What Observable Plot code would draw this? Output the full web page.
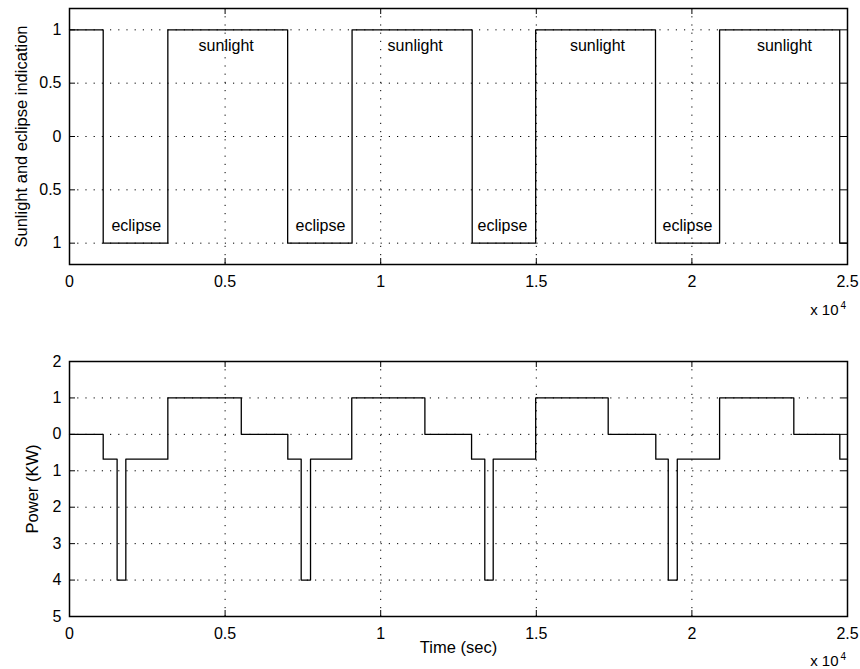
<!DOCTYPE html>
<html>
<head>
<meta charset="utf-8">
<script src="https://cdn.jsdelivr.net/npm/d3@7"></script>
<script src="https://cdn.jsdelivr.net/npm/@observablehq/plot@0.6"></script>
<style>
  body { margin: 0; background: #fff; }
  #chart { width: 860px; height: 669px; font-family: "Liberation Sans", Arial, Helvetica, sans-serif; }
  #chart svg { display: block; font-family: "Liberation Sans", Arial, Helvetica, sans-serif; }
</style>
</head>
<body>
<div id="chart"></div>
<script>
// ---------- data ----------
// Top panel: sunlight (+1) / eclipse (-1) indication, step changes at these times (s)
const sunTime  = [0, 1083, 3160, 7010, 9080, 12940, 14980, 18830, 20890, 24750, 25000];
const sunValue = [1,   -1,    1,   -1,    1,    -1,     1,    -1,     1,    -1,    -1];

// Bottom panel: power (KW), step changes at these times (s)
const powerTime  = [0, 1083, 1530, 1810, 3160, 5520, 7015, 7445, 7745, 9070, 11420, 12920, 13345, 13615, 14980, 17310, 18840, 19240, 19530, 20890, 23275, 24753, 25000];
const powerValue = [0, -0.68, -4, -0.68,   1,    0, -0.68,   -4, -0.68,   1,     0, -0.68,    -4, -0.68,     1,     0, -0.68,    -4, -0.68,     1,     0, -0.68, -0.68];

// Annotations
const sunLabelTime     = [5035, 11108, 16966, 22975];
const eclipseLabelTime = [2147, 8065, 13914, 19859];
const sunLabelLevel = 0.85;
const eclipseLabelLevel = -0.84;

// Tick values
const xTicks = [0, 5000, 10000, 15000, 20000, 25000];
const yTicksTop = [-1, -0.5, 0, 0.5, 1];
const yTicksBottom = [-5, -4, -3, -2, -1, 0, 1, 2];

// ---------- layout / style ----------
const W = 860, ML = 69, MR = 13;
const FONT = 16;
const dotted = "1.2,7";
const absFmt = d => String(Math.abs(d));
const xFmt = d => String(d / 1e4);

function innerTicks(xt, yt, frameW, frameH, xDomain, yDomain) {
  const xin = xt.filter(d => d > xDomain[0] && d < xDomain[1]);
  const yin = yt.filter(d => d > yDomain[0] && d < yDomain[1]);
  const L = 6;
  return [
    Plot.tickX(xin, {x: d => d, stroke: "black", strokeWidth: 1, insetTop: frameH - L}),
    Plot.tickX(xin, {x: d => d, stroke: "black", strokeWidth: 1, insetBottom: frameH - L}),
    Plot.tickY(yin, {y: d => d, stroke: "black", strokeWidth: 1, insetRight: frameW - L}),
    Plot.tickY(yin, {y: d => d, stroke: "black", strokeWidth: 1, insetLeft: frameW - L})
  ];
}

function grid(xt, yt, xDomain, yDomain) {
  const xin = xt.filter(d => d > xDomain[0] && d < xDomain[1]);
  const yin = yt.filter(d => d > yDomain[0] && d < yDomain[1]);
  return [
    Plot.ruleX(xin, {x: d => d, stroke: "black", strokeWidth: 1, strokeDasharray: dotted}),
    Plot.ruleY(yin, {y: d => d, stroke: "black", strokeWidth: 1, strokeDasharray: dotted})
  ];
}

function exponent(dyBase) {
  return [
    Plot.text(["x 10"], {frameAnchor: "bottom-right", textAnchor: "end", dx: -9, dy: dyBase, fontSize: 15, fill: "black"}),
    Plot.text(["4"], {frameAnchor: "bottom-right", textAnchor: "start", dx: -7, dy: dyBase - 6, fontSize: 10, fill: "black"})
  ];
}

// ---------- top panel ----------
const topH = 320, topMT = 8, topMB = 56;
const topX = [0, 25000], topY = [-1.2, 1.2];
const topData = sunTime.map((t, i) => ({t, v: sunValue[i]}));

const topPlot = Plot.plot({
  width: W, height: topH,
  marginLeft: ML, marginRight: MR, marginTop: topMT, marginBottom: topMB,
  style: {fontSize: FONT + "px", color: "black", background: "white"},
  x: {domain: topX},
  y: {domain: topY},
  marks: [
    ...grid(xTicks, yTicksTop, topX, topY),
    ...innerTicks(xTicks, yTicksTop, W - ML - MR, topH - topMT - topMB, topX, topY),
    Plot.line(topData, {x: "t", y: "v", curve: "step-after", stroke: "black", strokeWidth: 1.3}),
    Plot.text(sunLabelTime, {x: d => d, y: sunLabelLevel, text: () => "sunlight", fontSize: FONT, fill: "black"}),
    Plot.text(eclipseLabelTime, {x: d => d, y: eclipseLabelLevel, text: () => "eclipse", fontSize: FONT, fill: "black"}),
    Plot.frame({stroke: "black", strokeWidth: 1.5}),
    Plot.axisX(xTicks, {tickSize: 0, tickPadding: 11, tickFormat: xFmt, label: null, fontSize: FONT}),
    Plot.axisY(yTicksTop, {tickSize: 0, tickPadding: 8, tickFormat: absFmt, label: null, fontSize: FONT}),
    Plot.text(["Sunlight and eclipse indication"], {frameAnchor: "left", textAnchor: "middle", dx: -48, rotate: -90, fontSize: 16.5, fill: "black"}),
    ...exponent(50)
  ]
});

// ---------- bottom panel ----------
const botH = 349, botMT = 41, botMB = 53;
const botX = [0, 25000], botY = [-5, 2];
const botData = powerTime.map((t, i) => ({t, v: powerValue[i]}));

const bottomPlot = Plot.plot({
  width: W, height: botH,
  marginLeft: ML, marginRight: MR, marginTop: botMT, marginBottom: botMB,
  style: {fontSize: FONT + "px", color: "black", background: "white"},
  x: {domain: botX},
  y: {domain: botY},
  marks: [
    ...grid(xTicks, yTicksBottom, botX, botY),
    ...innerTicks(xTicks, yTicksBottom, W - ML - MR, botH - botMT - botMB, botX, botY),
    Plot.line(botData, {x: "t", y: "v", curve: "step-after", stroke: "black", strokeWidth: 1.3}),
    Plot.frame({stroke: "black", strokeWidth: 1.5}),
    Plot.axisX(xTicks, {tickSize: 0, tickPadding: 11, tickFormat: xFmt, label: null, fontSize: FONT}),
    Plot.axisY(yTicksBottom, {tickSize: 0, tickPadding: 8, tickFormat: absFmt, label: null, fontSize: FONT}),
    Plot.text(["Power (KW)"], {frameAnchor: "left", textAnchor: "middle", dx: -37, rotate: -90, fontSize: 16.5, fill: "black"}),
    Plot.text(["Time (sec)"], {frameAnchor: "bottom", dy: 36, fontSize: 16.5, fill: "black"}),
    ...exponent(49)
  ]
});

const chart = document.getElementById("chart");
chart.appendChild(topPlot);
chart.appendChild(bottomPlot);
</script>
</body>
</html>
